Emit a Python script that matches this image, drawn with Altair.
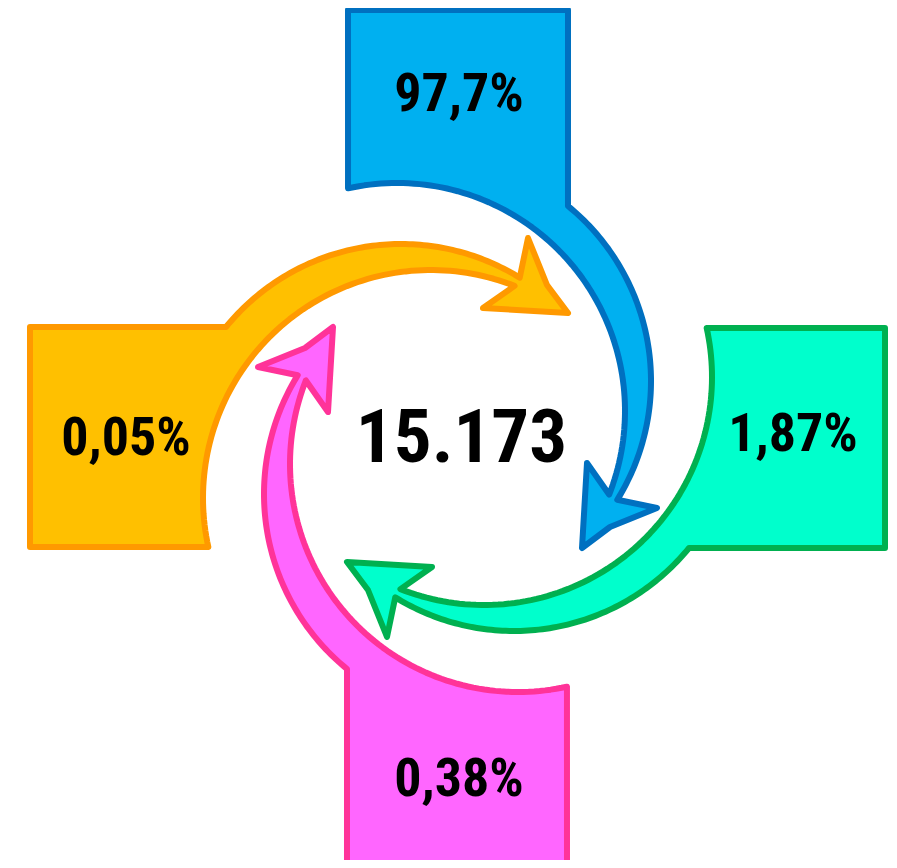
import numpy as np
import pandas as pd
import altair as alt

# ---------------- data ----------------
arm_names = ["top", "right", "bottom", "left"]
labels = ["97,7%", "1,87%", "0,38%", "0,05%"]
total_label = "15.173"
fills = ["#00B0F0", "#00FFCC", "#FF66FF", "#FFC000"]
strokes = ["#0070C0", "#00B050", "#FF3399", "#FF9900"]

# ---------------- layout (pixels of the 897x868 page) ----------------
PAGE_MARGIN = 8
CX, CY = 457.5, 437.5                       # pinwheel centre
label_pos = [(459, 92), (793, 432), (459, 777), (126, 436)]
total_pos = (461.5, 435)
LABEL_SIZE, TOTAL_SIZE = 54, 75
FONT = "Liberation Sans Narrow, Arial Narrow, Roboto Condensed, DejaVu Sans Condensed, sans-serif"

# geometry of one arm (the top one) relative to the centre, y pointing down
box_left, box_right, box_top = -109.5, 110.5, -427.5
inner_c, inner_r, inner_a = (-60.5, -26.5), 228.0, (-102.4, 21.5)
outer_c, outer_r, outer_a = (-32.5, -56.5), 226.0, (-50.75, 31.7)
head_pts = [(199.5, 70.5), (152.5, 89.5), (124.5, 110.5), (129.5, 25.5)]


def arc(c, r, a0, a1, n=90):
    t = np.radians(np.linspace(a0, a1, n))
    return list(zip(c[0] + r * np.cos(t), c[1] + r * np.sin(t)))


def arm_shape():
    pts = [(box_left, box_top), (box_right, box_top)]
    pts += arc(outer_c, outer_r, outer_a[0], outer_a[1])
    pts += head_pts
    pts += arc(inner_c, inner_r, inner_a[1], inner_a[0])
    pts.append(pts[0])
    return pts


def rotate(pts, k):
    out = []
    for x, y in pts:
        for _ in range(k):
            x, y = -y, x
        out.append((float(x + CX), float(y + CY)))
    return out


base = arm_shape()
features = []
for k, name in enumerate(arm_names):
    ring = [[x, y] for x, y in rotate(base, k)]
    features.append({
        "type": "Feature",
        "geometry": {"type": "Polygon", "coordinates": [ring]},
        "properties": {"name": name, "fill": fills[k], "stroke": strokes[k]},
    })

proj = dict(type="identity", scale=1, translate=[-PAGE_MARGIN, -PAGE_MARGIN])

shapes = alt.Chart(alt.Data(values=features)).mark_geoshape(
    strokeWidth=6, strokeJoin="round", strokeOpacity=1, fillOpacity=1
).encode(
    fill=alt.Fill("properties.fill:N", scale=None),
    stroke=alt.Stroke("properties.stroke:N", scale=None),
).project(**proj)

lab_df = pd.DataFrame({
    "label": labels,
    "lon": [p[0] for p in label_pos],
    "lat": [p[1] + 0.358 * LABEL_SIZE for p in label_pos],
})
lab = alt.Chart(lab_df).mark_text(
    font=FONT, fontWeight="bold", fontSize=LABEL_SIZE, color="black",
    align="center", baseline="alphabetic",
).encode(
    longitude="lon:Q", latitude="lat:Q", text="label:N"
).project(**proj)

tot_df = pd.DataFrame({
    "label": [total_label],
    "lon": [total_pos[0]],
    "lat": [total_pos[1] + 0.358 * TOTAL_SIZE],
})
tot = alt.Chart(tot_df).mark_text(
    font=FONT, fontWeight="bold", fontSize=TOTAL_SIZE, color="black",
    align="center", baseline="alphabetic",
).encode(
    longitude="lon:Q", latitude="lat:Q", text="label:N"
).project(**proj)

chart = alt.layer(shapes, lab, tot).properties(
    width=881, height=852,
    autosize=alt.AutoSizeParams(type="none"),
    padding=0,
).configure_view(stroke=None)

chart.save("out.html", embed_options={"renderer": "svg", "actions": False})
